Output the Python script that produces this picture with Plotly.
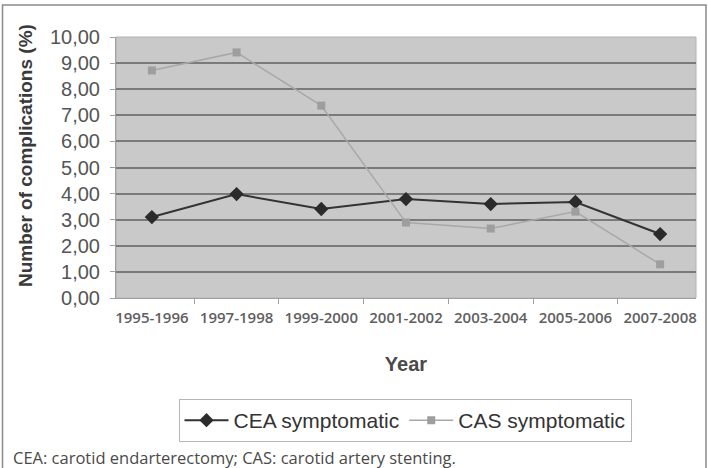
import plotly.graph_objects as go

years = ["1995-1996", "1997-1998", "1999-2000", "2001-2002", "2003-2004", "2005-2006", "2007-2008"]
cea_symptomatic = [3.10, 3.98, 3.41, 3.79, 3.60, 3.68, 2.45]
cas_symptomatic = [8.72, 9.41, 7.37, 2.89, 2.66, 3.31, 1.29]

W, H = 708, 468
L, R, T, B = 116, 696, 37, 298

def px_x(x):
    return (x - L) / (R - L)

def px_y(y):
    return (B - y) / (B - T)

fig = go.Figure()
fig.add_trace(go.Scatter(
    x=years, y=cea_symptomatic, name="CEA symptomatic", mode="lines+markers",
    line=dict(color="#333333", width=2),
    marker=dict(symbol="diamond", size=11, color="#2b2b2b"),
))
fig.add_trace(go.Scatter(
    x=years, y=cas_symptomatic, name="CAS symptomatic", mode="lines+markers",
    line=dict(color="#a8a8a8", width=1.5),
    marker=dict(symbol="square", size=8, color="#9e9e9e"),
))

fig.update_layout(
    width=W, height=H,
    margin=dict(l=L, r=W - R, t=T, b=H - B),
    paper_bgcolor="white",
    plot_bgcolor="#c9c9c9",
    separators=", ",
    font=dict(family="Liberation Sans, Arial, sans-serif", color="#444444"),
    showlegend=True,
    legend=dict(
        orientation="h",
        x=px_x(405), xanchor="center",
        y=px_y(420.5), yanchor="middle",
        bgcolor="white", bordercolor="#b5b5b5", borderwidth=1,
        font=dict(family="Liberation Sans, Arial, sans-serif", size=21, color="#333333"),
        itemwidth=44,
    ),
    xaxis=dict(
        type="category",
        tickson="boundaries",
        ticks="outside", ticklen=5, tickcolor="#a0a0a0",
        ticklabelstandoff=6,
        showline=True, linecolor="#a0a0a0", linewidth=1,
        showgrid=False,
        tickfont=dict(family="Open Sans, sans-serif", size=15, color="#606060", weight=600),
        title=dict(text="<b>Year</b>", font=dict(family="Liberation Sans, Arial, sans-serif", size=20, color="#4a4a4a"), standoff=30),
    ),
    yaxis=dict(
        range=[0, 10], dtick=1, tickformat=".2f",
        ticks="outside", ticklen=5, tickcolor="#a0a0a0",
        ticklabelstandoff=6,
        showline=True, linecolor="#a0a0a0", linewidth=1,
        showgrid=True, gridcolor="#7a7a7a", gridwidth=1.5,
        zeroline=False,
        tickfont=dict(family="Liberation Sans, Arial, sans-serif", size=20, color="#555555"),
    ),
)

# y-axis title placed as rotated annotation
fig.add_annotation(
    text="<b>Number of complications (%)</b>",
    xref="paper", yref="paper", x=px_x(25), y=px_y(156),
    xanchor="center", yanchor="middle", textangle=-90, showarrow=False,
    font=dict(family="Liberation Sans, Arial, sans-serif", size=19, color="#3a3a3a"),
)

# plot area border (light)
fig.add_shape(type="rect", xref="paper", yref="paper", x0=0, x1=1, y0=0, y1=1,
              line=dict(color="#b0b0b0", width=1), layer="below")
# outer frame
fig.add_shape(type="rect", xref="paper", yref="paper",
              x0=px_x(2.5), x1=px_x(706), y0=px_y(5), y1=px_y(475),
              line=dict(color="#8a8a8a", width=1.5), layer="above")

fig.add_annotation(
    text="CEA: carotid endarterectomy; CAS: carotid artery stenting.",
    xref="paper", yref="paper", x=px_x(11), y=px_y(457),
    xanchor="left", yanchor="middle", showarrow=False,
    font=dict(family="Open Sans, sans-serif", size=16.5, color="#4a4a4a"),
)

fig.write_html("out.html")
